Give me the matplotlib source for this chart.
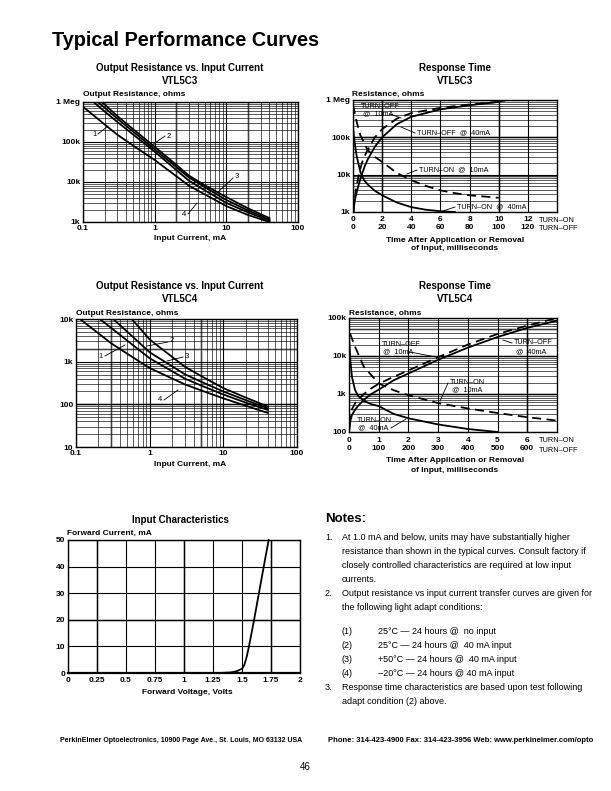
import matplotlib
matplotlib.use("Agg")
import matplotlib.pyplot as plt
from matplotlib.ticker import LogLocator, NullFormatter

plt.rcParams['font.family'] = ['Liberation Sans', 'DejaVu Sans']
SANS = ['Liberation Sans', 'DejaVu Sans']

# ---- VTL5C3 output resistance vs input current (mA, kOhm) ----
c3_i_a = [0.18, 0.2, 0.3, 0.5, 1, 2, 3, 5, 10, 20, 40]
c3_r_a = [1000, 870, 450, 210, 76, 27, 14.5, 8.3, 4.2, 2.2, 1.25]
c3_i_b = [0.16, 0.2, 0.3, 0.5, 1, 2, 3, 5, 10, 20, 40]
c3_r_b = [1000, 722, 386, 182, 66, 23.7, 13, 7.4, 3.55, 1.95, 1.15]
c3_i_c = [0.14, 0.2, 0.3, 0.5, 1, 2, 3, 5, 10, 20, 40]
c3_r_c = [1000, 580, 320, 154, 57.5, 20, 10.8, 6.2, 3.0, 1.74, 1.07]
c3_i_d = [0.1, 0.15, 0.2, 0.3, 0.5, 1, 2, 3, 5, 10, 20, 40]
c3_r_d = [760, 420, 275, 153, 81.5, 35.5, 14, 8.1, 4.9, 2.5, 1.5, 1.0]

# ---- VTL5C4 output resistance vs input current (mA, Ohm) ----
c4_i_a = [0.113, 0.15, 0.2, 0.3, 0.5, 1, 2, 3, 5, 10, 20, 40]
c4_r_a = [10000, 6850, 4660, 2700, 1520, 708, 406, 294, 212, 138, 93, 63]
c4_i_b = [0.21, 0.3, 0.5, 0.7, 1, 2, 3, 5, 10, 20, 40]
c4_r_b = [10000, 6200, 3080, 1950, 1200, 601, 401, 276, 170, 110, 74]
c4_i_c = [0.32, 0.5, 0.7, 1, 2, 3, 5, 10, 20, 40]
c4_r_c = [10000, 4970, 2920, 1660, 785, 507, 338, 200, 126, 81]
c4_i_d = [0.57, 0.7, 0.8, 1, 1.5, 2, 3, 5, 10, 20, 40]
c4_r_d = [10000, 6700, 5150, 3310, 1920, 1310, 760, 460, 240, 145, 89]

# ---- VTL5C3 response time (turn-on ms / turn-off ms, kOhm) ----
c3_on40_t = [0, 0.1, 0.25, 0.5, 0.75, 1, 1.5, 2, 3, 4, 5, 6, 7]
c3_on40_r = [190, 79, 32, 12, 7.2, 5.5, 3.7, 2.8, 1.8, 1.35, 1.15, 1.05, 1.0]
c3_on10_t = [0, 0.25, 0.5, 1, 1.5, 2, 3, 4, 5, 6, 7, 8, 9, 10]
c3_on10_r = [740, 263, 115, 46, 30, 22, 11.2, 7.1, 5.0, 3.8, 3.2, 2.8, 2.6, 2.4]
c3_off40_t = [0, 1, 2, 4, 6, 8, 10, 15, 20, 30, 40, 60, 80, 100, 105]
c3_off40_r = [1.0, 1.8, 2.8, 5.6, 10, 16.6, 25, 56, 100, 224, 355, 562, 724, 891, 1000]
c3_off10_t = [0.5, 1, 2, 4, 6, 8, 10, 15, 20, 30, 40, 60, 80, 100, 105]
c3_off10_r = [1.0, 2.0, 4.0, 10, 20, 31.6, 45.7, 100, 166, 316, 447, 617, 759, 891, 1000]

# ---- VTL5C4 response time (turn-on ms / turn-off ms, Ohm) ----
c4_on40_t = [0, 0.05, 0.1, 0.2, 0.3, 0.5, 0.75, 1, 1.5, 2, 3, 4, 5]
c4_on40_r = [31600, 7000, 2800, 1300, 900, 660, 540, 480, 300, 230, 158, 120, 100]
c4_on10_t = [0.03, 0.2, 0.5, 1, 1.5, 2, 3, 4, 5, 6, 7]
c4_on10_r = [40000, 17800, 5200, 1900, 1260, 930, 575, 417, 316, 245, 200]
c4_off40_t = [0, 5, 10, 20, 30, 50, 75, 100, 150, 200, 300, 400, 500, 600, 700]
c4_off40_r = [100, 200, 282, 380, 480, 700, 1000, 1300, 2290, 3470, 7940, 16600, 31600, 55000, 85000]
c4_off10_t = [2, 5, 10, 20, 30, 50, 75, 100, 150, 200, 300, 400, 500, 600, 700]
c4_off10_r = [158, 282, 398, 562, 708, 1000, 1410, 1860, 2820, 4170, 9300, 20000, 38000, 63000, 100000]

# ---- input characteristics ----
fwd_v = [0, 1.3, 1.4, 1.45, 1.5, 1.52, 1.54, 1.56, 1.6, 1.65, 1.7, 1.73]
fwd_i = [0, 0, 0.2, 0.6, 1.6, 3, 6, 10, 19, 31, 43, 50]

W, H = 611, 791
fig = plt.figure(figsize=(W / 100, H / 100), dpi=100)
fig.patch.set_facecolor('white')


def fx(x):
    return x / W


def fy(y):
    return 1 - y / H


def add_ax(l, t, r, b):
    return fig.add_axes([fx(l), fy(b), (r - l) / W, (b - t) / H])


def txt(x, y, s, size=6, ha='left', weight='bold', **kw):
    fig.text(fx(x), fy(y), s, ha=ha, va='center', fontsize=size,
             fontweight=weight, family=SANS, **kw)


def style(ax):
    for s in ax.spines.values():
        s.set_linewidth(1.0)
        s.set_color('black')
    ax.tick_params(which='both', length=0, labelsize=6)
    for lab in ax.get_xticklabels() + ax.get_yticklabels():
        lab.set_fontweight('bold')


def log_grid(ax, axis):
    a = ax.xaxis if axis == 'x' else ax.yaxis
    a.set_minor_locator(LogLocator(base=10, subs=range(2, 10)))
    a.set_minor_formatter(NullFormatter())
    ax.grid(True, axis=axis, which='major', color='black', lw=0.8)
    ax.grid(True, axis=axis, which='minor', color='black', lw=0.45)


GRAY = '#b4b4b4'
LW = 1.3
DASH = (0, (5, 3))

# ================= chart 1 =================
ax1 = add_ax(83, 102, 298, 222)
ax1.set_xscale('log')
ax1.set_yscale('log')
for i, r in [(c3_i_a, c3_r_a), (c3_i_b, c3_r_b), (c3_i_c, c3_r_c), (c3_i_d, c3_r_d)]:
    ax1.plot(i, [v * 1e3 for v in r], color='black', lw=LW, zorder=3)
ax1.set_xlim(0.1, 100)
ax1.set_ylim(1e3, 1e6)
log_grid(ax1, 'x')
log_grid(ax1, 'y')
for v in [2, 20]:
    ax1.axvline(v, color=GRAY, lw=1.8, zorder=1.5)
ax1.set_xticks([0.1, 1, 10, 100], ['0.1', '1', '10', '100'])
ax1.set_yticks([1e3, 1e4, 1e5, 1e6], ['1k', '10k', '100k', '1 Meg'])
ax1.tick_params(axis='x', pad=2.5)
ax1.tick_params(axis='y', pad=2)
style(ax1)

# ================= chart 2 =================
ax2 = add_ax(353, 100, 557, 212)
ax2.set_yscale('log')
ax2.plot(c3_on40_t, [v * 1e3 for v in c3_on40_r], color='black', lw=LW, zorder=3)
ax2.plot(c3_on10_t, [v * 1e3 for v in c3_on10_r], color='black', lw=LW, ls=DASH, zorder=3)
ax2.plot([t / 10 for t in c3_off40_t], [v * 1e3 for v in c3_off40_r], color='black', lw=LW, zorder=3)
ax2.plot([t / 10 for t in c3_off10_t], [v * 1e3 for v in c3_off10_r], color='black', lw=LW, ls=DASH, zorder=3)
ax2.set_xlim(0, 14)
ax2.set_ylim(1e3, 1e6)
log_grid(ax2, 'y')
ax2.set_xticks(range(0, 14, 2), [f'{t}\n{t * 10}' for t in range(0, 14, 2)])
ax2.grid(True, axis='x', which='major', color='black', lw=0.8)
for v in [2, 10]:
    ax2.axvline(v, color=GRAY, lw=1.8, zorder=1.5)
for v in [1e5, 9e3]:
    ax2.axhline(v, color=GRAY, lw=1.8, zorder=1.5)
ax2.set_yticks([1e3, 1e4, 1e5, 1e6], ['1k', '10k', '100k', '1 Meg'])
ax2.tick_params(axis='x', pad=3)
ax2.tick_params(axis='y', pad=2)
style(ax2)
for lab in ax2.get_xticklabels():
    lab.set_linespacing(1.15)

# ================= chart 3 =================
ax3 = add_ax(76, 319, 297, 447)
ax3.set_xscale('log')
ax3.set_yscale('log')
for i, r in [(c4_i_a, c4_r_a), (c4_i_b, c4_r_b), (c4_i_c, c4_r_c), (c4_i_d, c4_r_d)]:
    ax3.plot(i, r, color='black', lw=LW, zorder=3)
ax3.set_xlim(0.1, 100)
ax3.set_ylim(10, 1e4)
log_grid(ax3, 'x')
log_grid(ax3, 'y')
for v in [0.3, 5]:
    ax3.axvline(v, color=GRAY, lw=1.8, zorder=1.5)
for v in [2000, 100]:
    ax3.axhline(v, color=GRAY, lw=1.8, zorder=1.5)
ax3.set_xticks([0.1, 1, 10, 100], ['0.1', '1', '10', '100'])
ax3.set_yticks([10, 100, 1e3, 1e4], ['10', '100', '1k', '10k'])
ax3.tick_params(axis='x', pad=2.5)
ax3.tick_params(axis='y', pad=2)
style(ax3)

# ================= chart 4 =================
ax4 = add_ax(349, 318, 557, 432)
ax4.set_yscale('log')
ax4.plot(c4_on40_t, c4_on40_r, color='black', lw=LW, zorder=3)
ax4.plot(c4_on10_t, c4_on10_r, color='black', lw=LW, ls=DASH, zorder=3)
ax4.plot([t / 100 for t in c4_off40_t], c4_off40_r, color='black', lw=LW, zorder=3)
ax4.plot([t / 100 for t in c4_off10_t], c4_off10_r, color='black', lw=LW, ls=DASH, zorder=3)
ax4.set_xlim(0, 7)
ax4.set_ylim(100, 1e5)
log_grid(ax4, 'y')
ax4.set_xticks(range(0, 7), [f'{t}\n{t * 100}' for t in range(0, 7)])
ax4.grid(True, axis='x', which='major', color='black', lw=0.8)
ax4.axvline(6, color=GRAY, lw=1.8, zorder=1.5)
for v in [1e4, 1e3, 5e4]:
    ax4.axhline(v, color=GRAY, lw=1.8, zorder=1.5)
ax4.set_yticks([100, 1e3, 1e4, 1e5], ['100', '1k', '10k', '100k'])
ax4.tick_params(axis='x', pad=3.5)
ax4.tick_params(axis='y', pad=2)
style(ax4)
for lab in ax4.get_xticklabels():
    lab.set_linespacing(1.2)

# ================= chart 5 =================
ax5 = add_ax(68, 540, 300, 673)
ax5.plot(fwd_v, fwd_i, color='black', lw=LW, zorder=3, clip_on=False)
ax5.set_xlim(0, 2)
ax5.set_ylim(0, 50)
xt = [0, 0.25, 0.5, 0.75, 1, 1.25, 1.5, 1.75, 2]
ax5.set_xticks(xt, ['0', '0.25', '0.5', '0.75', '1', '1.25', '1.5', '1.75', '2'])
ax5.set_yticks(range(0, 60, 10))
ax5.grid(True, color='black', lw=0.8)
for v in [0.25, 1.0, 1.75]:
    ax5.axvline(v, color=GRAY, lw=1.8, zorder=1.5)
ax5.axhline(20, color=GRAY, lw=1.8, zorder=1.5)
ax5.tick_params(axis='x', pad=3)
ax5.tick_params(axis='y', pad=2)
style(ax5)
ax5.spines['bottom'].set_linewidth(1.6)


# ---- curve labels, charts 1 & 3 ----
def leader(x0, y0, x1, y1):
    fig.add_artist(plt.Line2D([fx(x0), fx(x1)], [fy(y0), fy(y1)], color='black', lw=0.6))


for s, x, y, l in [('1', 95, 134, (98, 134, 108, 126)), ('2', 169, 136, (165, 136, 152, 145)),
                   ('3', 237, 177, (233, 178, 217, 193)), ('4', 184, 214, (188, 214, 197, 203)),
                   ('1', 101, 356, (105, 356, 125, 345)), ('2', 172, 341, (168, 342, 147, 346)),
                   ('3', 187, 357, (183, 357, 167, 361)), ('4', 160, 400, (164, 400, 178, 390))]:
    txt(x, y, s, size=5.5, ha='center', weight='normal')
    leader(*l)

# ---- response time labels ----
LBL = 5.2
txt(361, 106, 'TURN\u2013OFF', size=LBL, weight='normal')
txt(363, 114, '@  10mA', size=LBL, weight='normal')
leader(390, 114, 401, 118)
txt(417, 133, 'TURN\u2013OFF  @  40mA', size=LBL, weight='normal')
leader(401, 127, 415, 133)
txt(419, 170, 'TURN\u2013ON  @  10mA', size=LBL, weight='normal')
leader(407, 174, 417, 170)
txt(457, 207, 'TURN\u2013ON  @  40mA', size=LBL, weight='normal')
leader(443, 211, 455, 207)

txt(382, 345, 'TURN\u2013OFF', size=LBL, weight='normal')
leader(411, 345, 416, 345)
txt(383, 352, '@  10mA', size=LBL, weight='normal')
leader(410, 352, 436, 357)
txt(514, 343, 'TURN\u2013OFF', size=LBL, weight='normal')
txt(516, 352, '@  40mA', size=LBL, weight='normal')
leader(503, 340, 512, 343)
txt(450, 382, 'TURN\u2013ON', size=LBL, weight='normal')
txt(452, 390, '@  10mA', size=LBL, weight='normal')
leader(448, 383, 440, 401)
txt(357, 421, 'TURN\u2013ON', size=LBL, weight='normal')
txt(358, 428, '@  40mA', size=LBL, weight='normal')
leader(391, 428, 406, 419)

# TURN-ON / TURN-OFF row captions
txt(539, 220, 'TURN\u2013ON', size=5.3, weight='normal')
txt(539, 229, 'TURN\u2013OFF', size=5.3, weight='normal')
txt(539, 441, 'TURN\u2013ON', size=5.3, weight='normal')
txt(539, 451, 'TURN\u2013OFF', size=5.3, weight='normal')

# ---- titles and axis captions ----
txt(52, 41, 'Typical Performance Curves', size=14.3)
TS = 7.0
for x, y, s in [(180, 68, 'Output Resistance vs. Input Current'), (180, 81, 'VTL5C3'),
                (455, 68, 'Response Time'), (455, 81, 'VTL5C3'),
                (180, 286, 'Output Resistance vs. Input Current'), (180, 299, 'VTL5C4'),
                (455, 286, 'Response Time'), (455, 299, 'VTL5C4'),
                (180, 520, 'Input Characteristics')]:
    txt(x, y, s, size=TS, ha='center')

AS = 6
txt(83, 94, 'Output Resistance, ohms', size=AS)
txt(190, 238, 'Input Current, mA', size=AS, ha='center')
txt(352, 94, 'Resistance, ohms', size=AS)
txt(455, 240, 'Time After Application or Removal', size=AS, ha='center')
txt(455, 249, 'of Input, milliseconds', size=AS, ha='center')
txt(76, 313, 'Output Resistance, ohms', size=AS)
txt(190, 464, 'Input Current, mA', size=AS, ha='center')
txt(349, 313, 'Resistance, ohms', size=AS)
txt(455, 461, 'Time After Application or Removal', size=AS, ha='center')
txt(455, 471, 'of Input, milliseconds', size=AS, ha='center')
txt(67, 533, 'Forward Current, mA', size=AS)
txt(187, 693, 'Forward Voltage, Volts', size=AS, ha='center')

# ---- notes ----
NS = 6.5
txt(325, 519, 'Notes:', size=9.5)
notes = [
    (325, 538, '1.'), (342, 538, 'At 1.0 mA and below, units may have substantially higher'),
    (342, 552, 'resistance than shown in the typical curves. Consult factory if'),
    (342, 566, 'closely controlled characteristics are required at low input'),
    (342, 579, 'currents.'),
    (325, 593, '2.'), (342, 593, 'Output resistance vs input current transfer curves are given for'),
    (342, 607, 'the following light adapt conditions:'),
    (342, 632, '(1)'), (378, 632, '25\u00b0C \u2014 24 hours @  no input'),
    (342, 646, '(2)'), (378, 646, '25\u00b0C \u2014 24 hours @  40 mA input'),
    (342, 660, '(3)'), (378, 660, '+50\u00b0C \u2014 24 hours @  40 mA input'),
    (342, 673, '(4)'), (378, 673, '\u221220\u00b0C \u2014 24 hours @ 40 mA input'),
    (325, 687, '3.'), (342, 687, 'Response time characteristics are based upon test following'),
    (342, 701, 'adapt condition (2) above.'),
]
for x, y, s in notes:
    txt(x, y, s, size=NS, weight='normal')

# ---- footer ----
txt(60, 741, 'PerkinElmer Optoelectronics, 10900 Page Ave., St. Louis, MO 63132 USA', size=5.0)
txt(328, 741, 'Phone: 314-423-4900 Fax: 314-423-3956 Web: www.perkinelmer.com/opto', size=5.5)
txt(305, 767, '46', size=7, ha='center', weight='normal')

fig.savefig('out.png', dpi=100)
